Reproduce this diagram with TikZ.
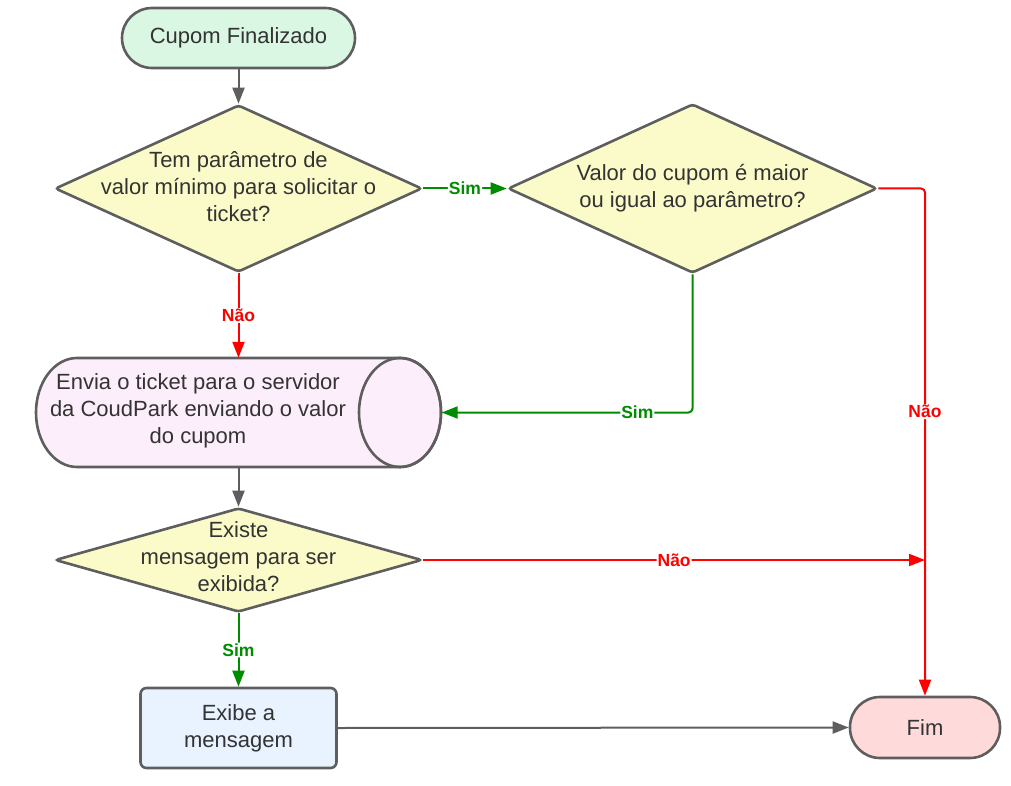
\documentclass[tikz,border=0pt]{standalone}
\usepackage{fontspec}
\setmainfont{Liberation Sans}
\usetikzlibrary{shapes.geometric,arrows.meta}
\definecolor{bordergray}{HTML}{5E5E5E}
\definecolor{txtgray}{HTML}{333333}
\definecolor{startfill}{HTML}{D9F7E3}
\definecolor{diafill}{HTML}{FBFBC9}
\definecolor{cylfill}{HTML}{FDEEFB}
\definecolor{boxfill}{HTML}{E8F3FF}
\definecolor{endfill}{HTML}{FFDADA}
\definecolor{lgreen}{HTML}{008C00}
\definecolor{lred}{HTML}{FF0000}
\tikzset{
  bordered/.style={draw=bordergray, line width=2.6pt},
  terminal/.style={bordered, rectangle, rounded corners=30pt, inner sep=0pt},
  dia/.style={bordered, diamond, fill=diafill, inner sep=0pt, rounded corners=3pt},
  txt/.style={text=txtgray, align=center, font=\fontsize{22}{27}\selectfont, inner sep=0pt},
  procbox/.style={bordered, rectangle, rounded corners=6pt, fill=boxfill, inner sep=0pt},
  conn/.style={line width=2pt, -{Triangle[length=16pt,width=12pt]}},
  grayconn/.style={conn, draw=bordergray},
  greenconn/.style={conn, draw=lgreen, rounded corners=4pt},
  redconn/.style={conn, draw=lred, rounded corners=4pt},
  lbl/.style={fill=white, inner sep=1pt, font=\fontsize{17.5}{20}\selectfont\bfseries},
  glbl/.style={lbl, text=lgreen},
  rlbl/.style={lbl, text=lred}
}
\begin{document}
\begin{tikzpicture}[x=1pt,y=1pt]
\useasboundingbox (0,0) rectangle (1011,-786);

% start
\node[terminal, fill=startfill, minimum width=233pt, minimum height=60pt, txt] (start) at (238.5,-38) {Cupom Finalizado};

% decision 1
\node[dia, minimum width=367pt, minimum height=167pt] (d1) at (238.5,-188.5) {};
\node[txt] (d1t) at (238.5,-187) {Tem parâmetro de\\valor mínimo para solicitar o\\ticket?};

% decision 2
\node[dia, minimum width=369pt, minimum height=169pt] (d2) at (692.5,-188.5) {};
\node[txt] (d2t) at (692.5,-188) {Valor do cupom é maior\\ou igual ao parâmetro?};

% cylinder
\node[minimum width=406pt, minimum height=109pt, inner sep=0pt] (cyl) at (238.5,-412.5) {};
\filldraw[bordered, fill=cylfill]
  (77,-358) -- (400,-358)
  arc[start angle=90, end angle=-90, x radius=41, y radius=54.5]
  -- (77,-467)
  arc[start angle=270, end angle=90, x radius=41, y radius=54.5] -- cycle;
\draw[bordered] (400,-412.5) ellipse[x radius=41, y radius=54.5];
\node[txt] (cylt) at (198,-411) {Envia o ticket para o servidor\\da CoudPark enviando o valor\\do cupom};

% decision 3
\node[dia, minimum width=367pt, minimum height=104pt] (d3) at (238.5,-560) {};
\node[txt] (d3t) at (238.5,-556.5) {Existe\\mensagem para ser\\exibida?};

% box
\node[procbox, minimum width=196pt, minimum height=80pt] (box) at (238.5,-728) {};
\node[txt] (boxt) at (238.5,-728) {Exibe a\\mensagem};

% end
\node[terminal, fill=endfill, minimum width=150pt, minimum height=61pt, txt] (fim) at (925,-727.5) {Fim};

\coordinate (j) at (fim.north |- d3.east);

% connectors
\draw[grayconn] (start.south) -- (d1.north);
\draw[greenconn] (d1.east) -- node[glbl] {Sim} (d2.west);
\draw[redconn] (d1.south) -- node[rlbl] {Não} (cyl.north);
\draw[greenconn] (d2.south) |- node[glbl, pos=0.61] {Sim} (cyl.east);
\draw[redconn] (d2.east) -| node[rlbl, pos=0.72] {Não} (fim.north);
\draw[grayconn] (cyl.south) -- (d3.north);
\draw[redconn] (d3.east) -- node[rlbl, pos=0.5] {Não} (j);
\draw[greenconn] (d3.south) -- node[glbl] {Sim} (box.north);
\draw[grayconn] (box.east) -- (fim.west);
\end{tikzpicture}
\end{document}
